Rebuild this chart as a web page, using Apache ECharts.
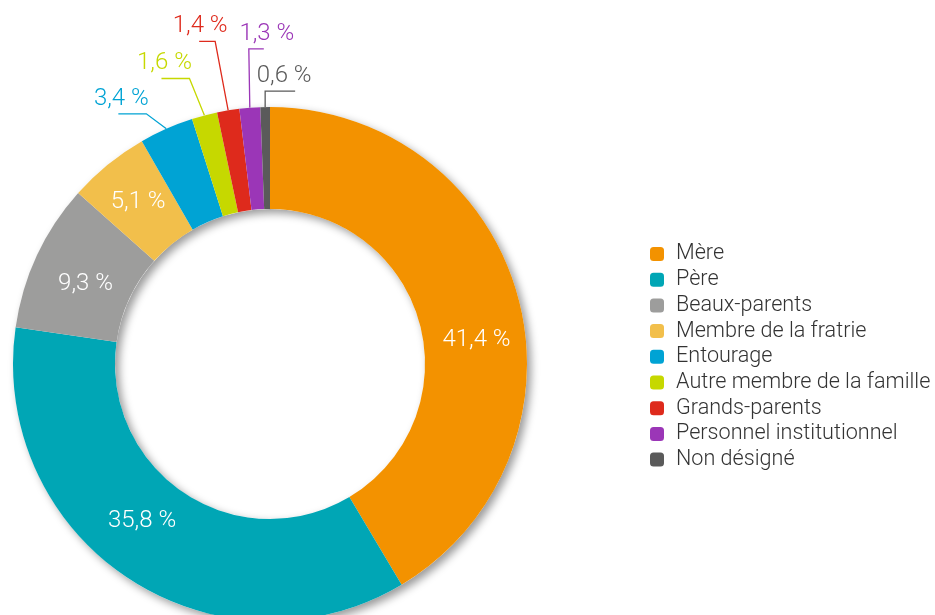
<!DOCTYPE html>
<html>
<head>
<meta charset="utf-8">
<script src="https://cdn.jsdelivr.net/npm/echarts@6/dist/echarts.min.js"></script>
<style>
html, body { margin: 0; padding: 0; background: #fff; }
#main { width: 935px; height: 615px; }
</style>
</head>
<body>
<div id="main"></div>
<script>
// data
var categories = ['Mère', 'Père', 'Beaux-parents', 'Membre de la fratrie', 'Entourage',
    'Autre membre de la famille', 'Grands-parents', 'Personnel institutionnel', 'Non désigné'];
var values = [41.4, 35.8, 9.3, 5.1, 3.4, 1.6, 1.4, 1.3, 0.6];
var colors = ['#f39200', '#00a6b5', '#9d9d9c', '#f2bf4b', '#00a3d4',
    '#c6d800', '#de2a1c', '#9b36b7', '#5a5a5a'];

// slices that get an outside label: [dx, dy, run, textDx] of the leader line
var guides = {
    4: [-20, -15, -28, 3],
    5: [-15, -37, -28, 3],
    6: [-13, -69, -16, 1],
    7: [-1, -59, 15, 3],
    8: [0, -16, 30, -11]
};
// small nudges for the inside labels
var nudges = { 0: [5, 32], 1: [-12, -17], 2: [5, 8] };

function fmt(v) {
    return v.toFixed(1).replace('.', ',') + ' %';
}

var pieData = [];
for (var i = 0; i < values.length; i++) {
    var item = {
        value: values[i],
        name: categories[i],
        itemStyle: { color: colors[i] }
    };
    if (guides[i]) {
        item.label = { position: 'outside', color: colors[i] };
        item.labelLine = { show: true, length: 10, length2: 10, lineStyle: { width: 1.3, color: colors[i] } };
    } else {
        item.label = { position: 'inside', color: '#fff' };
        item.labelLine = { show: false };
    }
    pieData.push(item);
}

var chart = echarts.init(document.getElementById('main'));
var option = {
    animation: false,
    legend: {
        orient: 'vertical',
        left: 645,
        top: 238,
        icon: 'roundRect',
        itemWidth: 14,
        itemHeight: 14,
        itemGap: 3.7,
        textStyle: {
            fontFamily: 'Roboto',
            fontWeight: 300,
            fontSize: 21.6,
            lineHeight: 22,
            color: '#333',
            padding: [0, 0, 0, 7]
        },
        data: categories
    },
    series: [
        {
            // ring shadow
            type: 'pie',
            silent: true,
            center: [270, 364],
            radius: [155, 257],
            label: { show: false },
            labelLine: { show: false },
            itemStyle: {
                color: '#fff',
                shadowColor: 'rgba(0,0,0,0.4)',
                shadowBlur: 9,
                shadowOffsetX: 4,
                shadowOffsetY: 4
            },
            data: [{ value: 1, name: '' }]
        },
        {
            type: 'pie',
            center: [270, 364],
            radius: [155, 257],
            startAngle: 90,
            clockwise: true,
            avoidLabelOverlap: false,
            silent: true,
            label: {
                show: true,
                fontFamily: 'Roboto',
                fontWeight: 300,
                fontSize: 24,
                formatter: function (p) { return fmt(p.value); }
            },
            labelLayout: function (p) {
                var i = p.dataIndex;
                if (nudges[i]) return { dx: nudges[i][0], dy: nudges[i][1] };
                var g = guides[i];
                if (!g || !p.labelLinePoints) return {};
                var s = p.labelLinePoints[0];
                var a = [s[0] + g[0], s[1] + g[1]];
                var b = [a[0] + g[2], a[1]];
                return {
                    x: b[0] + g[3],
                    y: a[1] - 3,
                    align: 'center',
                    verticalAlign: 'bottom',
                    labelLinePoints: [s, a, b]
                };
            },
            data: pieData
        }
    ]
};
chart.setOption(option);
</script>
</body>
</html>
